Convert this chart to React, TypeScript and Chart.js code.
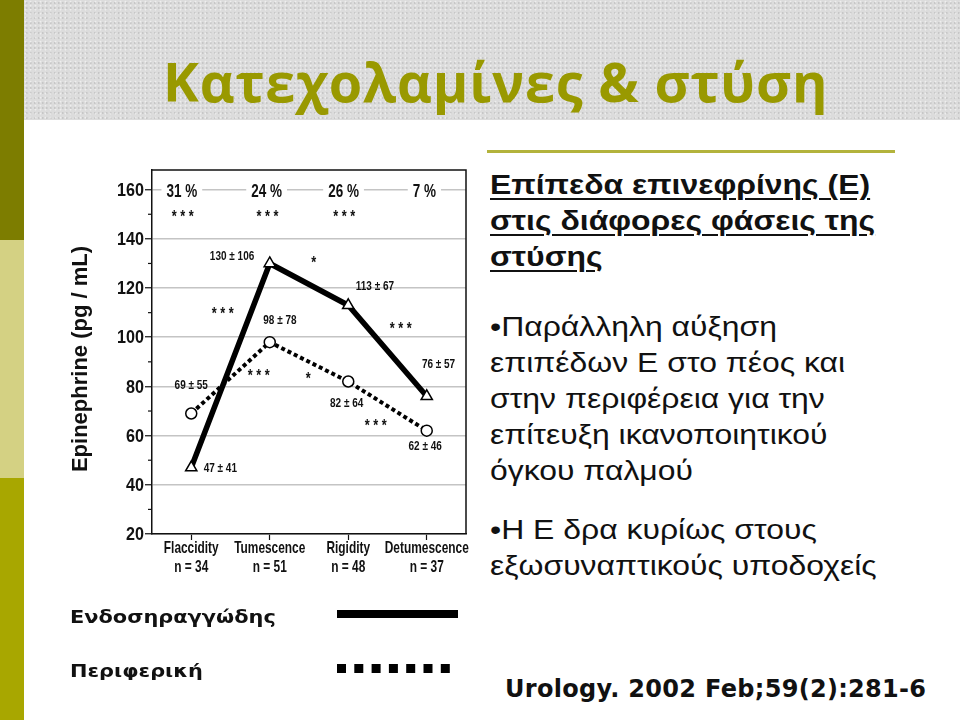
import React, { useEffect, useRef } from 'react';
import { Chart, registerables } from 'chart.js';

Chart.register(...registerables);

// ---- data ----
const categories = ['Flaccidity', 'Tumescence', 'Rigidity', 'Detumescence'];
const sampleSizes = ['n = 34', 'n = 51', 'n = 48', 'n = 37'];
const intracavernous = [47, 130, 113, 76];
const peripheral = [69, 98, 82, 62];
const seriesNames = ['Ενδοσηραγγώδης', 'Περιφερική'];
const yMin = 20;
const yMax = 168;
const yStep = 20;
const minorTickValues = [30, 50, 70, 90, 110, 130, 150];

const percentTexts = ['31 %', '24 %', '26 %', '7 %'];
const percentX = [-0.12, 0.96, 1.94, 2.97];
const percentY = 159.3;
const topStarsX = [-0.11, 0.97, 1.95];
const topStarsY = 150.5;

const valueTexts = ['130 ± 106', '113 ± 67', '76 ± 57', '98 ± 78', '69 ± 55', '82 ± 64', '62 ± 46', '47 ± 41'];
const valueX = [0.52, 2.34, 3.15, 1.13, 0.0, 1.98, 2.98, 0.37];
const valueY = [132.8, 120.6, 88.7, 106.6, 80.3, 73.1, 55.5, 46.6];

const sigTexts = ['*', '***', '***', '***', '*', '***'];
const sigX = [1.56, 0.40, 2.67, 0.86, 1.49, 2.35];
const sigY = [131.8, 111.1, 104.7, 85.7, 84.6, 65.3];

const SANS = '"Liberation Sans", Arial, sans-serif';

function narrowText(ctx: CanvasRenderingContext2D, text: string, x: number, y: number, size: number, sx: number, align: CanvasTextAlign = 'center') {
  ctx.save();
  ctx.translate(x, y);
  ctx.scale(sx, 1);
  ctx.font = `bold ${size}px ${SANS}`;
  ctx.textAlign = align;
  ctx.textBaseline = 'middle';
  ctx.fillText(text, 0, 0);
  ctx.restore();
}

const overlayPlugin = {
  id: 'overlay',
  afterDraw(chart: any) {
    const { ctx, chartArea, scales } = chart;
    const { left, top, right, bottom } = chartArea;
    const x = scales.x;
    const y = scales.y;
    ctx.save();
    ctx.fillStyle = '#111';
    // frame top & right
    ctx.strokeStyle = '#111';
    ctx.lineWidth = 1.5;
    ctx.beginPath();
    ctx.moveTo(left, top);
    ctx.lineTo(right, top);
    ctx.lineTo(right, bottom);
    ctx.stroke();
    // minor ticks
    ctx.lineWidth = 1.2;
    minorTickValues.forEach((v) => {
      const py = y.getPixelForValue(v);
      ctx.beginPath();
      ctx.moveTo(left - 4, py);
      ctx.lineTo(left, py);
      ctx.stroke();
    });
    // y tick labels (condensed)
    y.ticks.forEach((t: any) => {
      narrowText(ctx, String(t.value), left - 8, y.getPixelForValue(t.value) + 1, 19, 0.85, 'right');
    });
    // x tick labels (condensed, two lines)
    categories.forEach((c, i) => {
      const px = x.getPixelForValue(i);
      narrowText(ctx, c, px, bottom + 14, 17, 0.7);
      narrowText(ctx, sampleSizes[i], px, bottom + 33, 17, 0.7);
    });
    // y title
    ctx.save();
    ctx.translate(21, (top + bottom) / 2 + 7);
    ctx.rotate(-Math.PI / 2);
    ctx.font = `bold 22px ${SANS}`;
    ctx.textAlign = 'center';
    ctx.textBaseline = 'middle';
    ctx.fillText('Epinephrine (pg / mL)', 0, 0);
    ctx.restore();

    // percent labels with white background
    percentTexts.forEach((t, i) => {
      const px = x.getPixelForValue(percentX[i]);
      const py = y.getPixelForValue(percentY);
      ctx.font = `bold 18px ${SANS}`;
      const w = ctx.measureText(t).width * 0.75;
      ctx.fillStyle = '#fff';
      ctx.fillRect(px - w / 2 - 5, py - 8, w + 10, 16);
      ctx.fillStyle = '#111';
      narrowText(ctx, t, px, py + 1, 18, 0.75);
    });
    topStarsX.forEach((sx) => {
      narrowText(ctx, '* * *', x.getPixelForValue(sx), y.getPixelForValue(topStarsY) + 4, 17, 0.75);
    });
    valueTexts.forEach((t, i) => {
      narrowText(ctx, t, x.getPixelForValue(valueX[i]), y.getPixelForValue(valueY[i]), 12.5, 0.8);
    });
    sigTexts.forEach((t, i) => {
      narrowText(ctx, t.split('').join(' '), x.getPixelForValue(sigX[i]), y.getPixelForValue(sigY[i]) + 4, 17, 0.75);
    });

    // legend (below the chart)
    const legendLeft = 10;
    const sampleLeft = 277;
    ctx.fillStyle = '#111';
    [0, 1].forEach((i) => {
      ctx.save();
      ctx.translate(legendLeft, i === 0 ? 463 : 517);
      ctx.scale(1.16, 1);
      ctx.textAlign = 'left';
      ctx.textBaseline = 'alphabetic';
      ctx.font = 'bold 18px "DejaVu Sans", Verdana, sans-serif';
      ctx.fillText(seriesNames[i], 0, 0);
      ctx.restore();
    });
    const ds0 = chart.data.datasets[0];
    ctx.strokeStyle = ds0.borderColor;
    ctx.lineWidth = 8;
    ctx.lineCap = 'butt';
    ctx.beginPath();
    ctx.moveTo(sampleLeft, 454);
    ctx.lineTo(sampleLeft + 121, 454);
    ctx.stroke();
    const ds1 = chart.data.datasets[1];
    ctx.strokeStyle = ds1.borderColor;
    ctx.lineWidth = 9;
    ctx.setLineDash([9, 8.3]);
    ctx.beginPath();
    ctx.moveTo(sampleLeft, 508.5);
    ctx.lineTo(sampleLeft + 113, 508.5);
    ctx.stroke();
    ctx.restore();
  },
};

function EpinephrineChart() {
  const ref = useRef<HTMLCanvasElement | null>(null);
  useEffect(() => {
    if (!ref.current) return;
    const chart = new Chart(ref.current, {
      type: 'line',
      data: {
        labels: categories,
        datasets: [
          {
            label: seriesNames[0],
            data: intracavernous,
            borderColor: '#000',
            borderWidth: 5.5,
            pointStyle: 'triangle',
            pointRadius: 6.5,
            pointBorderWidth: 1.5,
            pointBackgroundColor: '#fff',
            pointBorderColor: '#000',
            tension: 0,
          },
          {
            label: seriesNames[1],
            data: peripheral,
            borderColor: '#000',
            borderWidth: 4,
            borderDash: [4, 3],
            pointStyle: 'circle',
            pointRadius: 5.5,
            pointBorderWidth: 1.5,
            pointBackgroundColor: '#fff',
            pointBorderColor: '#000',
            tension: 0,
          },
        ],
      },
      options: {
        animation: false,
        responsive: false,
        maintainAspectRatio: false,
        devicePixelRatio: 1,
        layout: { padding: { top: 10, right: 14, left: 0, bottom: 95 } },
        plugins: { legend: { display: false }, tooltip: { enabled: false } },
        scales: {
          x: {
            type: 'category',
            offset: true,
            grid: { display: true, drawOnChartArea: false, offset: false, tickLength: 6, tickColor: '#111', tickWidth: 1.2 },
            border: { display: true, color: '#111', width: 1.5 },
            ticks: { display: false, autoSkip: false, maxRotation: 0 },
            afterFit: (s: any) => { s.height = 51; },
          },
          y: {
            min: yMin,
            max: yMax,
            grid: { color: '#c4c4c4', lineWidth: 1.5, tickLength: 7, tickColor: '#111', tickWidth: 1.2 },
            border: { display: true, color: '#111', width: 1.5 },
            ticks: { display: false, stepSize: yStep, includeBounds: false },
            afterFit: (s: any) => { s.width = 92; },
          },
        },
      },
      plugins: [overlayPlugin],
    } as any);
    return () => chart.destroy();
  }, []);
  return <canvas ref={ref} width={420} height={520} style={{ position: 'absolute', left: 60, top: 160, width: 420, height: 520 }} />;
}

export default function App() {
  const body: React.CSSProperties = {
    position: 'absolute',
    left: 490,
    fontFamily: SANS,
    fontSize: 28,
    lineHeight: '36px',
    color: '#111',
    whiteSpace: 'nowrap',
    margin: 0,
    transform: 'scaleX(1.14)',
    transformOrigin: 'left top',
  };
  return (
    <div style={{ position: 'absolute', left: 0, top: 0, width: 960, height: 720, background: '#fff', overflow: 'hidden' }}>
      {/* left colour bar */}
      <div style={{ position: 'absolute', left: 0, top: 0, width: 24, height: 240, background: '#7d7d00' }} />
      <div style={{ position: 'absolute', left: 0, top: 240, width: 24, height: 238, background: '#d4d183' }} />
      <div style={{ position: 'absolute', left: 0, top: 478, width: 24, height: 242, background: '#a8a700' }} />
      {/* header */}
      <div
        style={{
          position: 'absolute', left: 24, top: 0, width: 936, height: 120,
          backgroundColor: '#dcdcdc',
          backgroundImage:
            'radial-gradient(circle at 30% 40%, rgba(255,255,255,0.5) 0.6px, transparent 1.2px), radial-gradient(circle at 70% 60%, rgba(160,160,160,0.35) 0.6px, transparent 1.2px)',
          backgroundSize: '5px 4px, 4px 5px',
        }}
      />
      <div
        style={{
          position: 'absolute', left: 163, top: 54, fontFamily: '"Open Sans", "DejaVu Sans", sans-serif',
          fontWeight: 700, fontSize: 54, lineHeight: '54px', letterSpacing: '0.8px', color: '#999900', whiteSpace: 'nowrap',
        }}
      >
        Κατεχολαμίνες &amp; στύση
      </div>
      {/* separator */}
      <div style={{ position: 'absolute', left: 487, top: 150, width: 408, height: 3, background: '#b3b33c' }} />

      <div style={{ ...body, top: 167, fontWeight: 700, textDecoration: 'underline', textDecorationThickness: '2px', textUnderlineOffset: '4px' }}>
        Επίπεδα επινεφρίνης (Ε)<br />στις διάφορες φάσεις της<br />στύσης
      </div>
      <div style={{ ...body, top: 309 }}>
        •Παράλληλη αύξηση<br />επιπέδων Ε στο πέος και<br />στην περιφέρεια για την<br />επίτευξη ικανοποιητικού<br />όγκου παλμού
      </div>
      <div style={{ ...body, top: 512 }}>
        •Η Ε δρα κυρίως στους<br />εξωσυναπτικούς υποδοχείς
      </div>
      <div
        style={{
          position: 'absolute', left: 505, top: 677, fontFamily: '"DejaVu Sans", Verdana, sans-serif', fontWeight: 700,
          fontSize: 24, lineHeight: '24px', letterSpacing: '0.3px', color: '#111', whiteSpace: 'nowrap',
        }}
      >
        Urology. 2002 Feb;59(2):281-6
      </div>
      <EpinephrineChart />
    </div>
  );
}
